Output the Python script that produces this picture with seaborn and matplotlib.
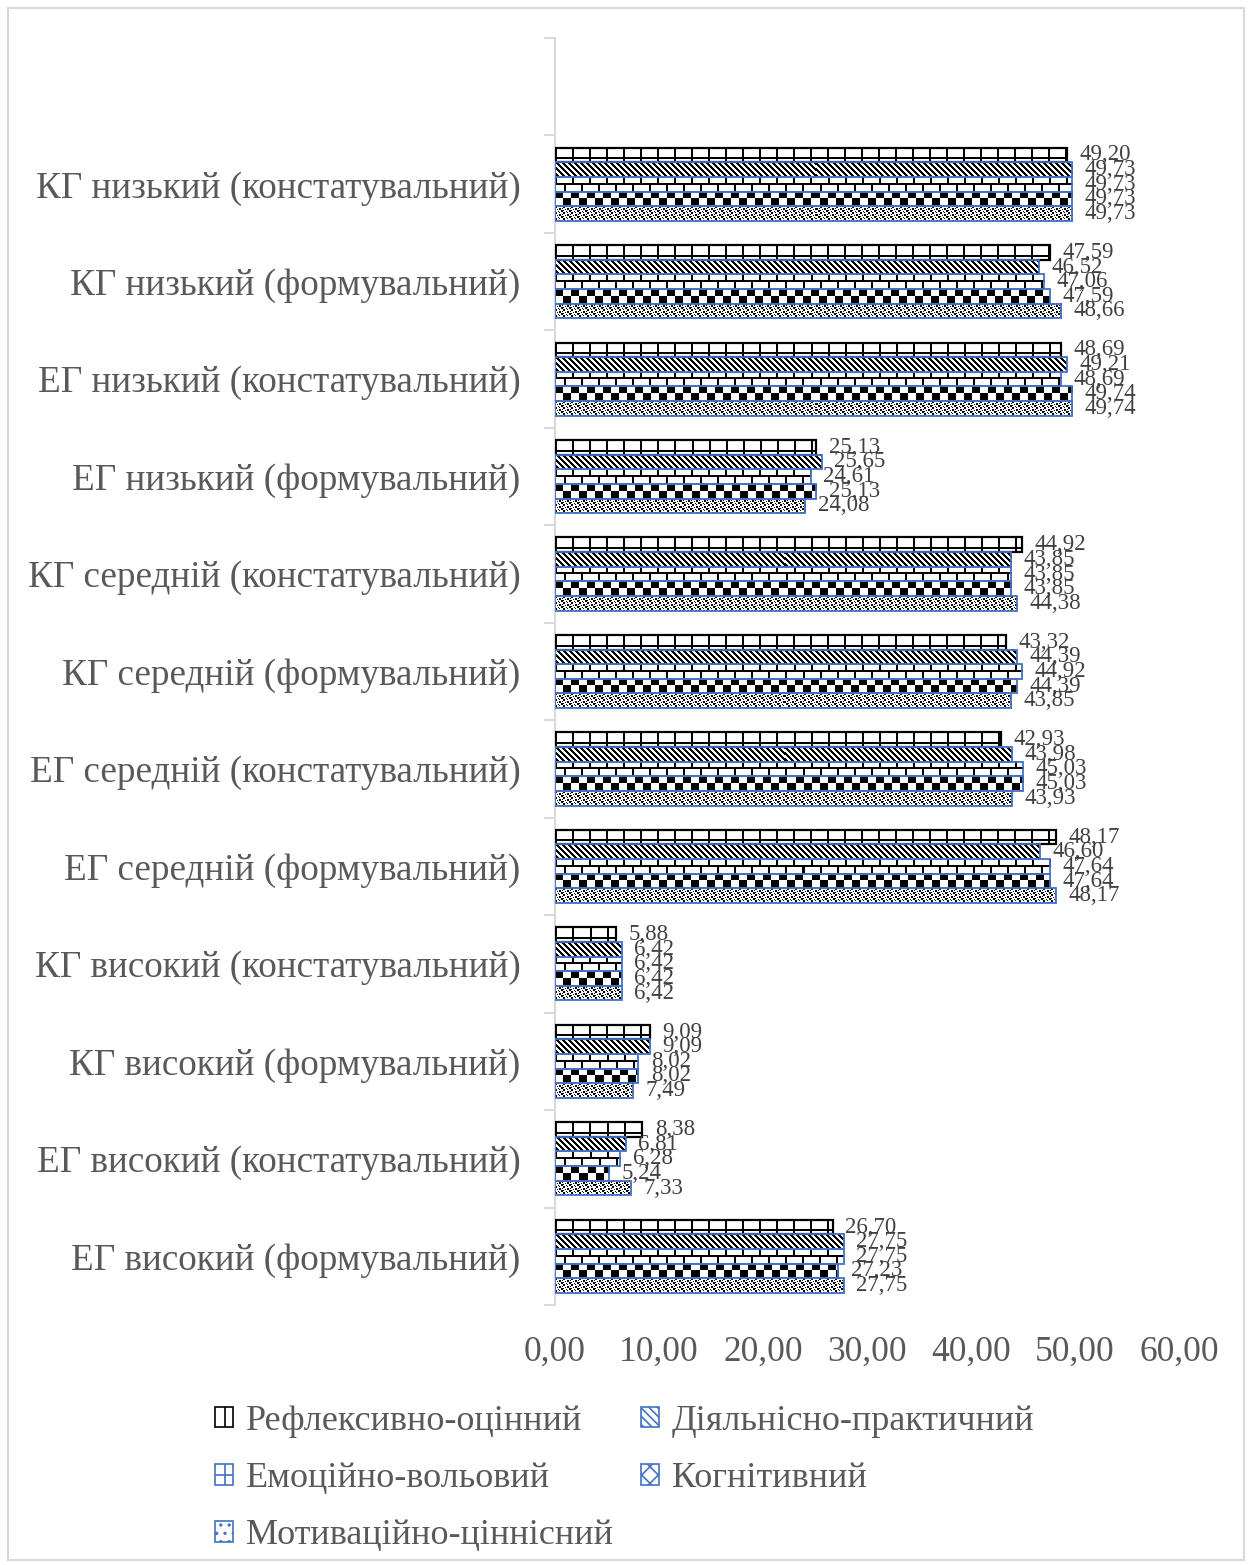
import numpy as np
import pandas as pd
import matplotlib
matplotlib.use("Agg")
import matplotlib.pyplot as plt
import seaborn as sns
from matplotlib.patches import Rectangle

# ---- data -------------------------------------------------------------
categories = [
    "КГ низький (констатувальний)",
    "КГ низький (формувальний)",
    "ЕГ низький (констатувальний)",
    "ЕГ низький (формувальний)",
    "КГ середній (констатувальний)",
    "КГ середній (формувальний)",
    "ЕГ середній (констатувальний)",
    "ЕГ середній (формувальний)",
    "КГ високий (констатувальний)",
    "КГ високий (формувальний)",
    "ЕГ високий (констатувальний)",
    "ЕГ високий (формувальний)",
]
series_names = [
    "Рефлексивно-оцінний",
    "Діяльнісно-практичний",
    "Емоційно-вольовий",
    "Когнітивний",
    "Мотиваційно-ціннісний",
]
reflexive = [49.20, 47.59, 48.69, 25.13, 44.92, 43.32, 42.93, 48.17, 5.88, 9.09, 8.38, 26.70]
practical = [49.73, 46.52, 49.21, 25.65, 43.85, 44.39, 43.98, 46.60, 6.42, 9.09, 6.81, 27.75]
emotional = [49.73, 47.06, 48.69, 24.61, 43.85, 44.92, 45.03, 47.64, 6.42, 8.02, 6.28, 27.75]
cognitive = [49.73, 47.59, 49.74, 25.13, 43.85, 44.39, 45.03, 47.64, 6.42, 8.02, 5.24, 27.23]
motivational = [49.73, 48.66, 49.74, 24.08, 44.38, 43.85, 43.93, 48.17, 6.42, 7.49, 7.33, 27.75]
x_ticks = [0, 10, 20, 30, 40, 50, 60]

series_values = [reflexive, practical, emotional, cognitive, motivational]
df = pd.DataFrame(
    [(c, s, v) for s, vals in zip(series_names, series_values) for c, v in zip(categories, vals)],
    columns=["group", "component", "value"],
)

# ---- fill patterns (pixel masks, True = black) -----------------------
def pat_grid(h, w):
    c = np.arange(w)[None, :]
    a = np.broadcast_to((c % 17) < 2, (h, w)).copy()
    m = int(round(h * 0.68))
    a[m:m + 2, :] = True
    return a

def pat_diag(h, w):
    r = np.arange(h)[:, None]
    c = np.arange(w)[None, :]
    return ((c - r) % 6) < 3

def pat_brick(h, w):
    r = np.arange(h)[:, None]
    c = np.arange(w)[None, :]
    m = h // 2
    a = np.where(r < m, (c % 17) < 2, ((c + 8) % 17) < 2)
    a[max(m - 1, 0):m + 1, :] = True
    return a

def pat_checker(h, w):
    r = np.arange(h)[:, None]
    c = np.arange(w)[None, :]
    return (((c // 8) + (r // 7)) % 2) == 0

_tile = np.array([
    "XX..X...",
    "XX......",
    "....XX.X",
    "..X.XX..",
    "X.....XX",
    "...X..XX",
])
TILE = np.array([[ch == "X" for ch in row] for row in _tile])

def pat_confetti(h, w):
    th, tw = TILE.shape
    reps = (h // th + 1, w // tw + 1)
    return np.tile(TILE, reps)[:h, :w]

patterns = [pat_grid, pat_diag, pat_brick, pat_checker, pat_confetti]
edge_colors = ["black", "#4472C4", "#4472C4", "#4472C4", "#4472C4"]
edge_widths = [1.6, 1.3, 1.3, 1.3, 1.3]
legend_hatches = ["|", "\\\\\\\\", "+", "xx", ".."]

# ---- figure -----------------------------------------------------------
W_PX, H_PX = 1252, 1565
sns.set_theme(style="white")
plt.rcParams["font.family"] = ["Liberation Serif", "DejaVu Serif"]
plt.rcParams["hatch.linewidth"] = 1.2

fig = plt.figure(figsize=(W_PX / 100, H_PX / 100), dpi=100)
ax_left, ax_right = 555, 1179
ax_top, ax_bottom = 38, 1305
ax = fig.add_axes([ax_left / W_PX, 1 - ax_bottom / H_PX,
                   (ax_right - ax_left) / W_PX, (ax_bottom - ax_top) / H_PX])

sns.barplot(data=df, y="group", x="value", hue="component",
            order=categories, hue_order=series_names, orient="h",
            errorbar=None, width=0.75, palette=["white"] * 5,
            saturation=1, legend=False, ax=ax)

ax.set_xlim(0, 60)
ax.set_ylim(len(categories) - 0.5, -1.5)

# patterned fills drawn as images inside each bar
for k, cont in enumerate(ax.containers):
    for p in cont.patches:
        x, y, w, h = p.get_x(), p.get_y(), p.get_width(), p.get_height()
        if not np.isfinite(w) or w <= 0:
            continue
        p0 = ax.transData.transform((x, y))
        p1 = ax.transData.transform((x + w, y + h))
        wp = max(int(round(abs(p1[0] - p0[0]))), 1)
        hp = max(int(round(abs(p1[1] - p0[1]))), 1)
        mask = patterns[k](hp, wp)
        img = np.where(mask[..., None], 0.0, 1.0) * np.ones((1, 1, 3))
        ax.imshow(img, extent=(x, x + w, y + h, y), origin="upper",
                  interpolation="nearest", aspect="auto", zorder=2)
        p.set_facecolor("none")
        p.set_edgecolor(edge_colors[k])
        p.set_linewidth(edge_widths[k])
        p.set_zorder(3)

ax.set_xlim(0, 60)
ax.set_ylim(len(categories) - 0.5, -1.5)
ax.set_aspect("auto")

# value labels with decimal comma
for cont in ax.containers:
    labels = [f"{v:.2f}".replace(".", ",") for v in cont.datavalues]
    ax.bar_label(cont, labels=labels, padding=9, fontsize=16.5, color="#404040")

# axes styling
ax.set_xlabel("")
ax.set_ylabel("")
ax.set_xticks(x_ticks)
ax.set_xticklabels([f"{v:.2f}".replace(".", ",") for v in x_ticks],
                   fontsize=25.5, color="#595959")
ax.set_yticks(range(len(categories)))
ax.set_yticklabels(categories, fontsize=26.7, color="#595959")
ax.set_yticks(np.arange(-1.5, len(categories), 1.0), minor=True)
ax.tick_params(axis="x", length=0, pad=22)
ax.tick_params(axis="y", which="major", length=0, pad=25)
ax.tick_params(axis="y", which="minor", length=8, width=1.5, color="#D9D9D9", left=True)
for side in ["top", "right", "bottom"]:
    ax.spines[side].set_visible(False)
ax.spines["left"].set_color("#D9D9D9")
ax.spines["left"].set_linewidth(1.5)
ax.grid(False)

# legend, filled row by row
handles = [Rectangle((0, 0), 1, 1, facecolor="white", edgecolor=edge_colors[k],
                     hatch=legend_hatches[k], linewidth=1.2) for k in range(5)]
order = [0, 2, 4, 1, 3]
leg = fig.legend([handles[i] for i in order], [series_names[i] for i in order],
                 ncol=2, loc="upper left", bbox_to_anchor=(215 / W_PX, 1 - 1405 / H_PX),
                 frameon=False, fontsize=26, handlelength=0.5, handleheight=0.5,
                 handletextpad=0.35, columnspacing=0.78, labelspacing=0.67,
                 borderpad=0, borderaxespad=0)
for t in leg.get_texts():
    t.set_color("#595959")

# chart border
fig.add_artist(Rectangle((8 / W_PX, 5 / H_PX), 1 - 16 / W_PX, 1 - 13 / H_PX,
                         transform=fig.transFigure, fill=False,
                         edgecolor="#D9D9D9", linewidth=1.5))

fig.savefig("out.png", dpi=100)
